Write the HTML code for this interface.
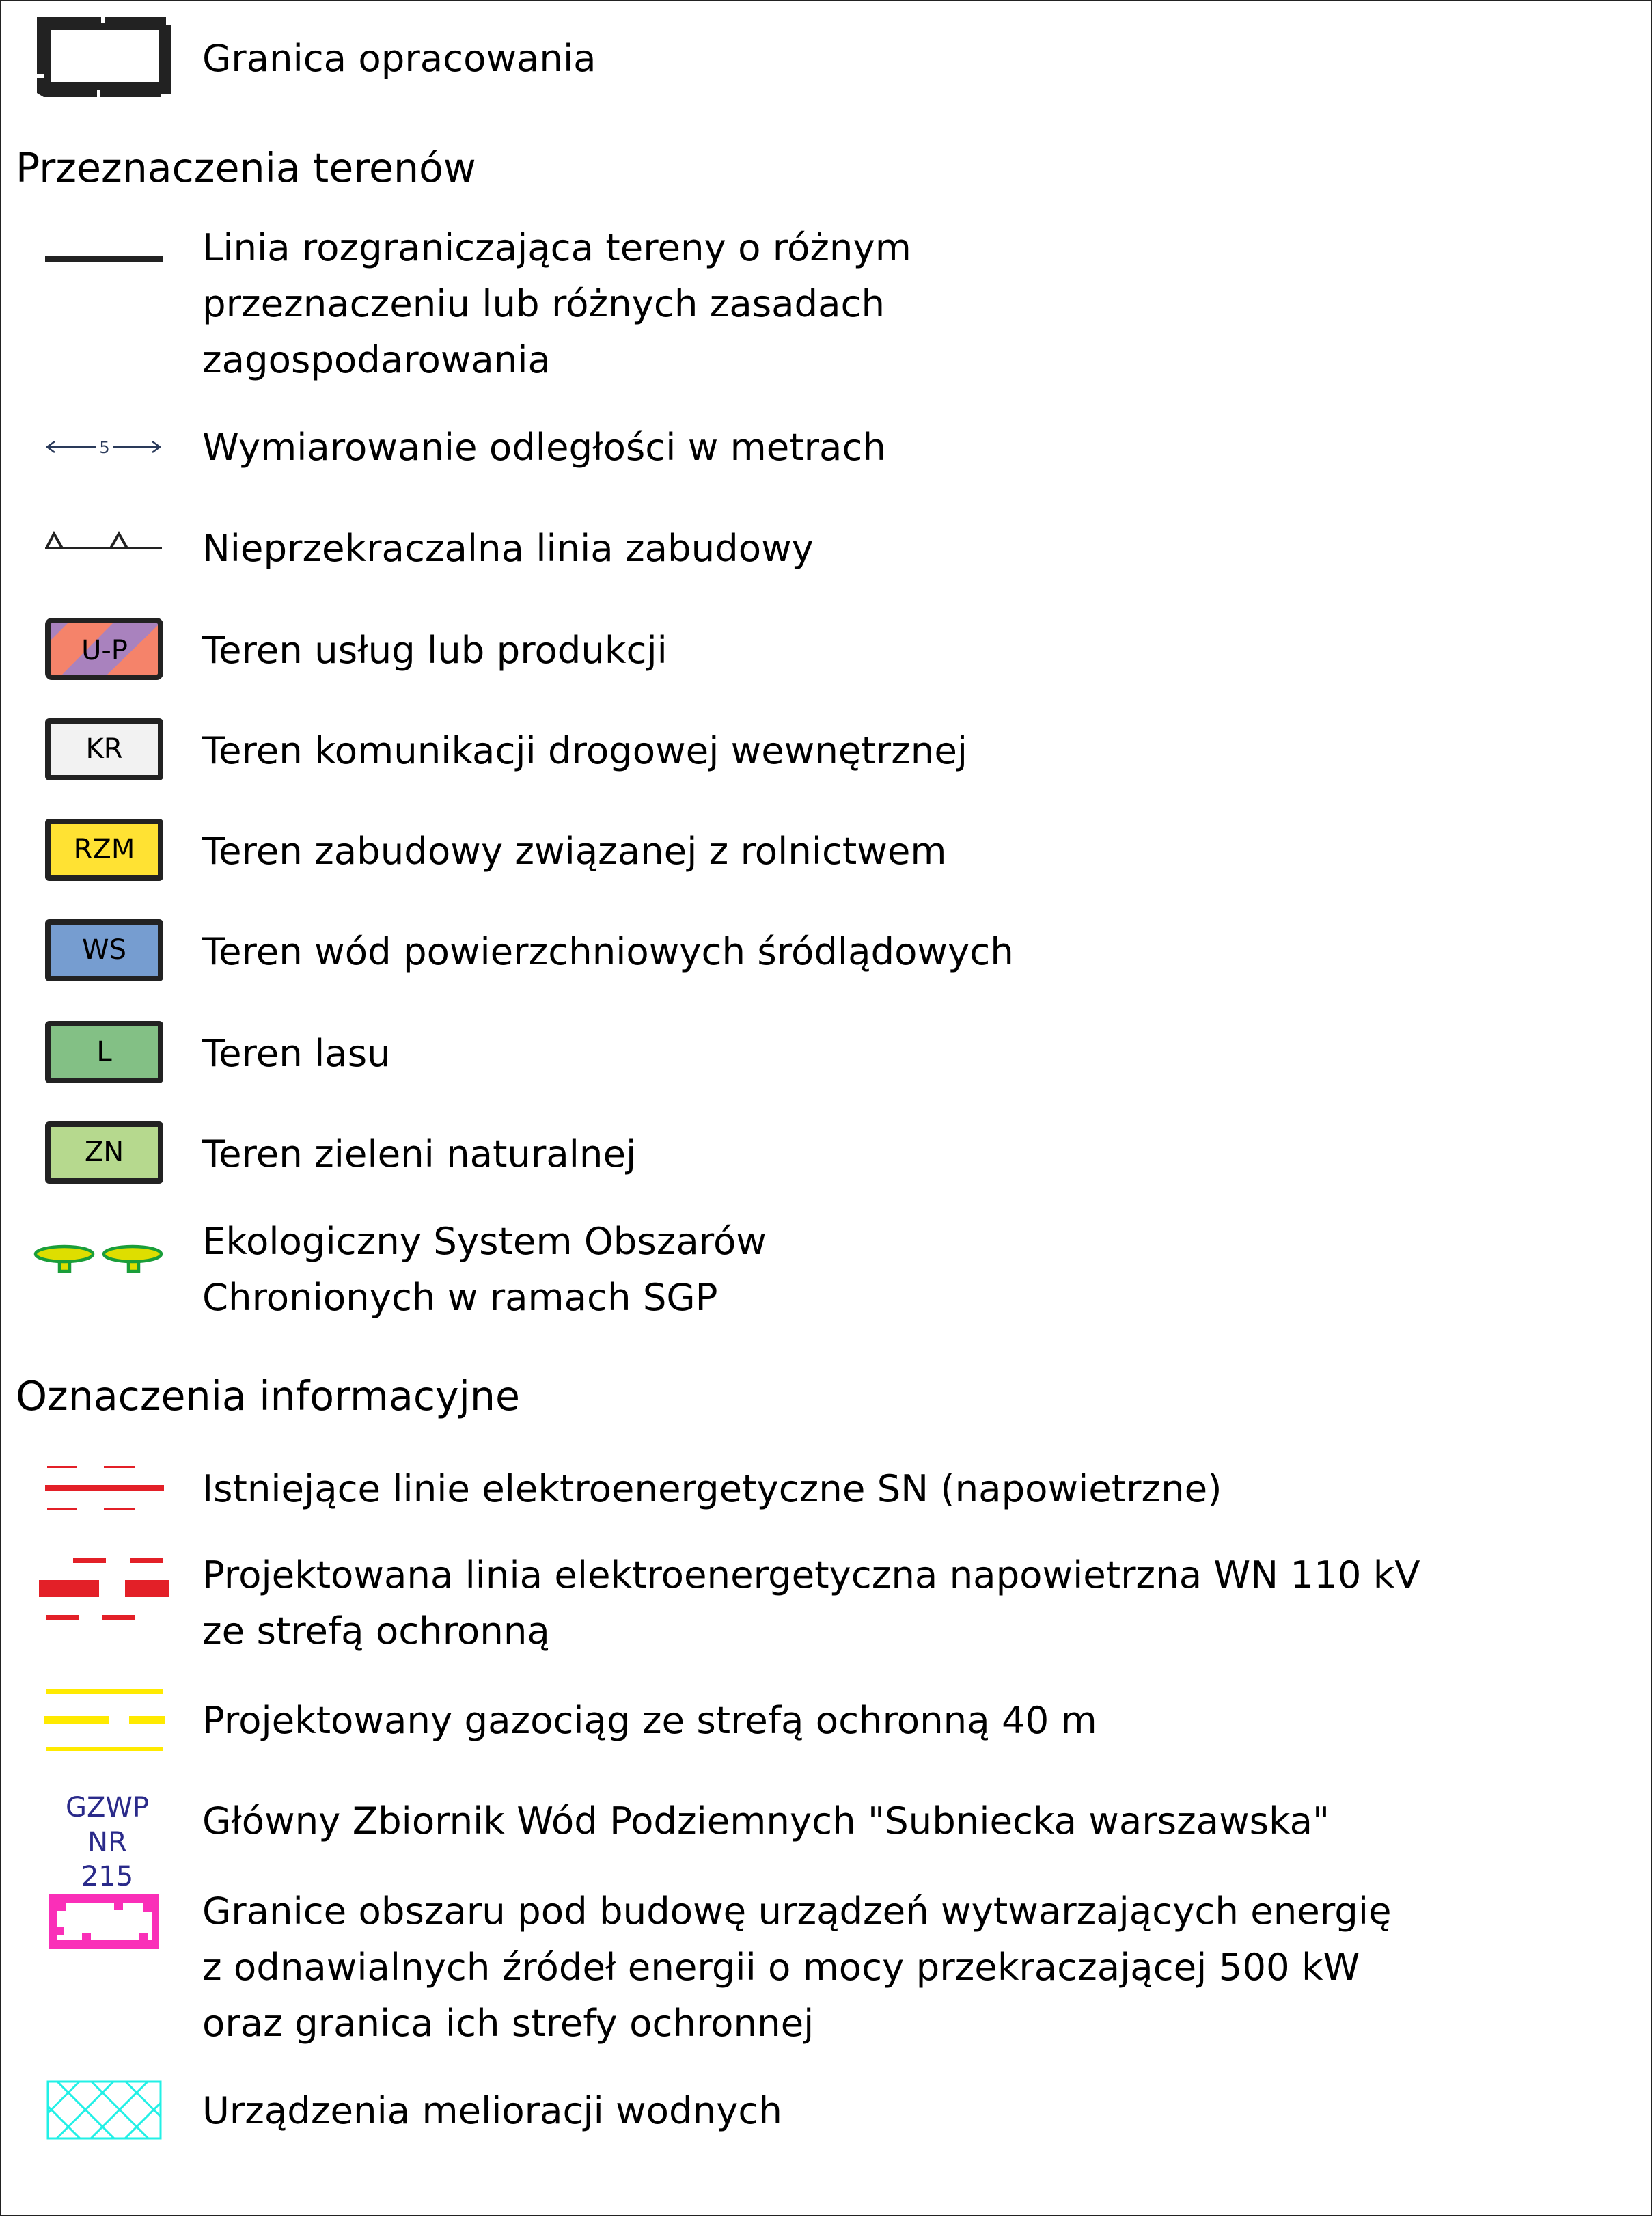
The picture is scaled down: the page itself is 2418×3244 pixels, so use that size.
<!DOCTYPE html>
<html><head><meta charset="utf-8"><style>
html,body{margin:0;padding:0;background:#fff;}
body{width:2418px;height:3244px;position:relative;overflow:hidden;font-family:"DejaVu Sans","Liberation Sans",sans-serif;color:#000;}
.frame{position:absolute;left:0;top:0;width:2414px;height:3239px;border:2px solid #222;}
.t{position:absolute;left:296px;font-size:54.5px;line-height:82px;white-space:nowrap;}
.h{position:absolute;left:23px;font-size:58.5px;line-height:82px;white-space:nowrap;}
.box{position:absolute;left:66px;width:157px;height:75px;border:8px solid #222;border-radius:6px;font-size:40px;text-align:center;line-height:75px;}
svg{position:absolute;left:0;top:0;}
</style></head><body>
<div class="frame"></div>
<svg width="2418" height="3244" viewBox="0 0 2418 3244">
 <path d="M54 25 H148 V33 H153 V25 H243 V36 H250 V138 H236 V142 H147 V131 H142 V142 H64 L54 136 V114 H64 V108 H54 Z M74 44 V120 H232 V44 Z" fill="#222" fill-rule="evenodd"/>
 <rect x="66" y="375" width="173" height="8" fill="#222"/>
 <g stroke="#2a3a5a" stroke-width="2.5" fill="none">
  <line x1="69" y1="654" x2="140" y2="654"/><line x1="166" y1="654" x2="234" y2="654"/>
  <polyline points="80,646 69,654 80,662"/><polyline points="223,646 234,654 223,662"/>
 </g>
 <text x="153" y="663" font-size="24" fill="#2a3a5a" text-anchor="middle" font-family="DejaVu Sans, sans-serif">5</text>
 <g stroke="#222" stroke-width="4" fill="none">
  <line x1="66" y1="802" x2="237" y2="802"/>
  <polyline points="68,802 79,781 91,802"/><polyline points="162,802 174,781 186,802"/>
 </g>
 <defs><clipPath id="cp"><rect x="74" y="912" width="157" height="75"/></clipPath></defs>
 <g clip-path="url(#cp)">
  <rect x="74" y="912" width="157" height="75" fill="#f5836a"/>
  <polygon points="74,912 99,912 74,937" fill="#a982be"/>
  <polygon points="165,912 231,912 231,915 157,987 91,987" fill="#a982be"/>
 </g>
 <rect x="70" y="908" width="165" height="83" rx="6" fill="none" stroke="#222" stroke-width="8"/>
 <text x="153" y="965" font-size="40" text-anchor="middle" font-family="DejaVu Sans, sans-serif">U-P</text>
 <g fill="#dede00" stroke="#1a9e3a" stroke-width="4.5">
  <rect x="87" y="1843" width="15" height="17"/><rect x="188" y="1843" width="15" height="17"/>
  <ellipse cx="94" cy="1835" rx="42" ry="11"/><ellipse cx="194" cy="1835" rx="42" ry="11"/>
 </g>
 <g fill="#e32028">
  <rect x="69" y="2145" width="44" height="3"/><rect x="152" y="2145" width="45" height="3"/>
  <rect x="66" y="2173" width="174" height="9"/>
  <rect x="69" y="2207" width="44" height="3"/><rect x="152" y="2207" width="45" height="3"/>
  <rect x="107" y="2280" width="48" height="7"/><rect x="190" y="2280" width="48" height="7"/>
  <rect x="57" y="2312" width="88" height="25"/><rect x="183" y="2312" width="65" height="25"/>
  <rect x="67" y="2363" width="48" height="7"/><rect x="150" y="2363" width="48" height="7"/>
 </g>
 <g fill="#ffea00">
  <rect x="67" y="2472" width="171" height="7"/>
  <rect x="64" y="2511" width="96" height="12"/><rect x="189" y="2511" width="52" height="12"/>
  <rect x="67" y="2556" width="171" height="6"/>
 </g>
 <g fill="#2a2a8a" font-size="40" text-anchor="middle" font-family="DejaVu Sans, sans-serif">
  <text x="157" y="2658">GZWP</text><text x="157" y="2709">NR</text><text x="157" y="2759">215</text>
 </g>
 <path d="M72 2772 H233 V2852 H72 Z M84 2784 V2839 H222 V2784 Z" fill="#fa2fb8" fill-rule="evenodd"/>
 <g fill="#fa2fb8">
  <rect x="84" y="2784" width="13" height="12"/><rect x="167" y="2784" width="13" height="11"/>
  <rect x="210" y="2784" width="12" height="13"/><rect x="84" y="2820" width="10" height="11"/>
  <rect x="120" y="2829" width="13" height="10"/><rect x="203" y="2829" width="14" height="10"/>
 </g>
 <defs><clipPath id="cc"><rect x="69" y="3045" width="167" height="85"/></clipPath></defs>
 <g clip-path="url(#cc)" stroke="#22f0e6" stroke-width="3">
  <line x1="0" y1="3012" x2="200" y2="3212"/><line x1="50" y1="3012" x2="250" y2="3212"/>
  <line x1="100" y1="3012" x2="300" y2="3212"/><line x1="150" y1="3012" x2="350" y2="3212"/>
  <line x1="0" y1="3062" x2="200" y2="2862"/><line x1="0" y1="3112" x2="200" y2="2912"/>
  <line x1="0" y1="3162" x2="200" y2="2962"/><line x1="50" y1="3162" x2="250" y2="2962"/>
  <line x1="100" y1="3162" x2="300" y2="2962"/><line x1="150" y1="3162" x2="350" y2="2962"/>
  <line x1="-50" y1="3062" x2="150" y2="3262"/>
 </g>
 <rect x="70" y="3046" width="165" height="83" fill="none" stroke="#22f0e6" stroke-width="3"/>
</svg>

<div class="box" style="top:1051px;background:#f2f2f2">KR</div>
<div class="box" style="top:1198px;background:#ffe233">RZM</div>
<div class="box" style="top:1345px;background:#769dd0">WS</div>
<div class="box" style="top:1494px;background:#83c085">L</div>
<div class="box" style="top:1641px;background:#b6d98e">ZN</div>

<div class="t" style="top:44px">Granica opracowania</div>
<div class="h" style="top:205px">Przeznaczenia terenów</div>
<div class="t" style="top:321px">Linia rozgraniczająca tereny o różnym<br>przeznaczeniu lub różnych zasadach<br>zagospodarowania</div>
<div class="t" style="top:613px">Wymiarowanie odległości w metrach</div>
<div class="t" style="top:761px">Nieprzekraczalna linia zabudowy</div>
<div class="t" style="top:910px">Teren usług lub produkcji</div>
<div class="t" style="top:1057px">Teren komunikacji drogowej wewnętrznej</div>
<div class="t" style="top:1204px">Teren zabudowy związanej z rolnictwem</div>
<div class="t" style="top:1351px">Teren wód powierzchniowych śródlądowych</div>
<div class="t" style="top:1500px">Teren lasu</div>
<div class="t" style="top:1647px">Teren zieleni naturalnej</div>
<div class="t" style="top:1775px">Ekologiczny System Obszarów<br>Chronionych w ramach SGP</div>
<div class="h" style="top:2002px">Oznaczenia informacyjne</div>
<div class="t" style="top:2137px">Istniejące linie elektroenergetyczne SN (napowietrzne)</div>
<div class="t" style="top:2263px">Projektowana linia elektroenergetyczna napowietrzna WN 110 kV<br>ze strefą ochronną</div>
<div class="t" style="top:2476px">Projektowany gazociąg ze strefą ochronną 40 m</div>
<div class="t" style="top:2623px">Główny Zbiornik Wód Podziemnych "Subniecka warszawska"</div>
<div class="t" style="top:2755px">Granice obszaru pod budowę urządzeń wytwarzających energię<br>z odnawialnych źródeł energii o mocy przekraczającej 500 kW<br>oraz granica ich strefy ochronnej</div>
<div class="t" style="top:3047px">Urządzenia melioracji wodnych</div>
</body></html>
